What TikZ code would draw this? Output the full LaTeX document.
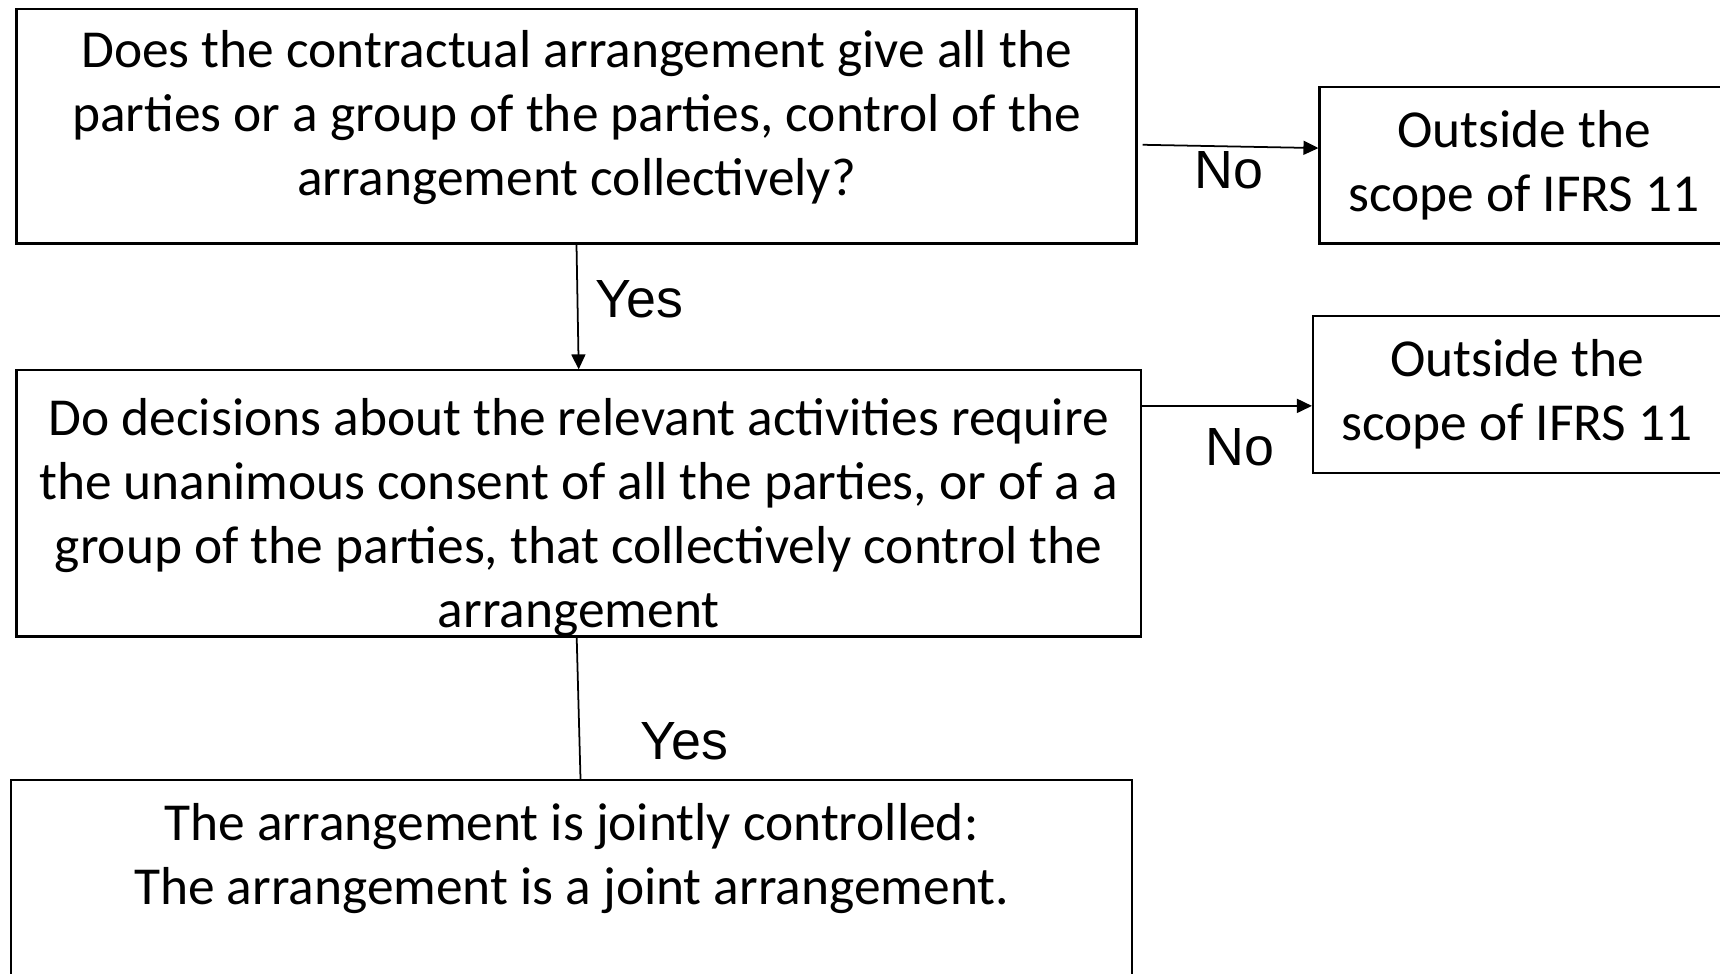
\documentclass[tikz,border=0pt]{standalone}
\usepackage{fontspec}
\usetikzlibrary{arrows.meta}
\newfontfamily\boxfont{Carlito}
\newfontfamily\labelfont{Liberation Sans}
\begin{document}
\begin{tikzpicture}[
		qbox/.style={draw, line width=0.6pt, align=center, inner sep=0pt,
			font=\boxfont\fontsize{15.2}{18.2}\selectfont},
		answer/.style={font=\labelfont\fontsize{15.3}{17}\selectfont},
		flow/.style={line width=0.5pt, -{Triangle[length=1.5mm,width=1.4mm]}}]
	\useasboundingbox (0,0) rectangle (17.2,-9.74);
	\clip (0,0) rectangle (17.2,-9.74);
	% questions
	\node[qbox, minimum width=11.2cm, minimum height=2.347cm] (qcontrol) at (5.765,-1.262)
		{Does the contractual arrangement give all the\\parties or a group of the parties, control of the\\arrangement collectively?\rule[-7.6pt]{0pt}{0pt}};
	\node[qbox, minimum width=11.245cm, minimum height=2.611cm] (qconsent) at (5.787,-5.035)
		{\rule{0pt}{18.5pt}Do decisions about the relevant activities require\\the unanimous consent of all the parties, or of a a\\group of the parties, that collectively control the\\arrangement};
	% outcomes
	\node[qbox, minimum width=4.09cm, minimum height=1.568cm] (outA) at (15.24,-1.651) {Outside the\\scope of IFRS 11};
	\node[qbox, minimum width=4.08cm, minimum height=1.569cm] (outB) at (15.17,-3.944) {Outside the\\scope of IFRS 11};
	\node[qbox, minimum width=11.21cm, minimum height=2.12cm] (result) at (5.715,-8.86)
		{The arrangement is jointly controlled:\\The arrangement is a joint arrangement.\\\mbox{}};
	% connectors
	\draw[flow] ([xshift=0.5mm,yshift=-1.86mm]qcontrol.east) -- ([yshift=1.7mm]outA.west);
	\draw[flow] ([yshift=9.76mm]qconsent.east) -- ([yshift=-1.15mm]outB.west);
	\draw[flow] (qcontrol.south) -- (qconsent.north);
	\draw[line width=0.5pt] ([xshift=-0.2mm]qconsent.south) -- ([xshift=0.9mm]result.north);
	% answers
	\node[answer] (noA) at (12.286,-1.70) {No};
	\node[answer] (noB) at (12.396,-4.476) {No};
	\node[answer] (yesA) at (6.395,-2.995) {Yes};
	\node[answer] (yesB) at (6.845,-7.416) {Yes};
\end{tikzpicture}
\end{document}
